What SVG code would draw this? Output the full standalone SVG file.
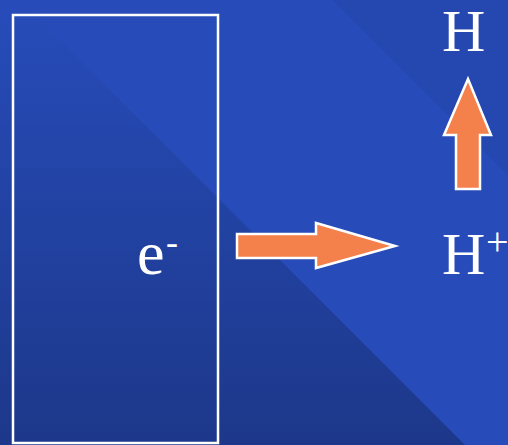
<svg xmlns="http://www.w3.org/2000/svg" width="508" height="445" viewBox="0 0 508 445">
<defs>
<linearGradient id="dark" x1="0" y1="0" x2="0" y2="445" gradientUnits="userSpaceOnUse">
<stop offset="0" stop-color="#274cba"/>
<stop offset="1" stop-color="#1d388a"/>
</linearGradient>
<style>
.lbl{font-family:"Liberation Serif","Times New Roman",serif;fill:#ffffff}
.arrow{fill:#f4804b;stroke:#ffffff;stroke-width:2.5;stroke-linejoin:miter}
</style>
</defs>
<g id="background">
<rect x="0" y="0" width="508" height="445" fill="#274cb9"/>
<polygon points="0,0 20,0 465,445 0,445" fill="url(#dark)"/>
<polygon points="333,0 508,0 508,175" fill="#2547b0"/>
</g>
<g id="box">
<rect x="13" y="15" width="205" height="428" fill="none" stroke="#ffffff" stroke-width="2.5"/>
</g>
<g id="electron">
<text class="lbl" x="137" y="274" font-size="62">e</text>
<text class="lbl" x="166" y="254" font-size="36">-</text>
</g>
<g id="H">
<text class="lbl" x="442" y="51" font-size="60">H</text>
</g>
<g id="Hplus">
<text class="lbl" x="442" y="274" font-size="60">H</text>
<text class="lbl" x="486" y="255" font-size="40">+</text>
</g>
<g id="connectors">
<polygon class="arrow" points="237,234 316,234 316,223 395,246 316,268 316,258 237,258"/>
<polygon class="arrow" points="456,189 456,135 444,135 468,79 491,135 480,135 480,189"/>
</g>
</svg>
